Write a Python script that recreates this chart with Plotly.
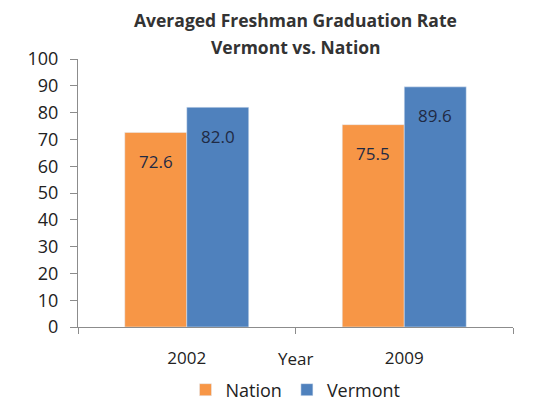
import plotly.graph_objects as go

years = ["2002", "2009"]
nation = [72.6, 75.5]
vermont = [82.0, 89.6]
y_ticks = [0, 10, 20, 30, 40, 50, 60, 70, 80, 90, 100]
title_lines = ["Averaged Freshman Graduation Rate", "Vermont vs. Nation"]

FONT = "Open Sans"
label_color = "#1F2A44"
W, H = 543, 402
ML, MR, MT, MB = 78, 30, 59, 75
BARGAP = 0.43
plot_w = W - ML - MR
plot_h = H - MT - MB

fig = go.Figure()
fig.add_trace(go.Bar(x=years, y=nation, name="Nation", marker_color="#F79646"))
fig.add_trace(go.Bar(x=years, y=vermont, name="Vermont", marker_color="#4F81BD"))

# data labels inside the bars, a little below the top
bar_px = plot_w / len(years) * (1 - BARGAP) / 2
for series, sign in ((nation, -1), (vermont, 1)):
    for i, v in enumerate(series):
        fig.add_annotation(
            x=i, y=v, xref="x", yref="y", text=f"{v:.1f}", showarrow=False,
            xshift=sign * bar_px / 2, yshift=-29, yanchor="middle",
            font=dict(family=FONT, size=17, color=label_color),
        )

# two-line bold title
for line, ypx in zip(title_lines, (20, 47)):
    fig.add_annotation(
        text=f"<b>{line}</b>", x=0.5, xref="paper",
        y=1 + (MT - ypx) / plot_h, yref="paper",
        xanchor="center", yanchor="middle", showarrow=False,
        font=dict(family=FONT, size=17.5, color="#333333"),
    )

fig.update_layout(
    width=W, height=H,
    margin=dict(l=ML, r=MR, t=MT, b=MB, autoexpand=False),
    paper_bgcolor="white", plot_bgcolor="white",
    barmode="group", bargap=BARGAP, bargroupgap=0,
    font=dict(family=FONT, size=15, color="#222222"),
    showlegend=True,
    legend=dict(
        orientation="h", x=0.5, xanchor="center", y=-0.235, yanchor="middle",
        font=dict(family=FONT, size=18, color="#222222"),
        itemwidth=30, traceorder="normal",
    ),
)

fig.update_yaxes(
    range=[0, 100], tickvals=y_ticks, showgrid=False,
    showline=True, linecolor="#8c8c8c", linewidth=1,
    ticks="outside", ticklen=7, tickcolor="#8c8c8c",
    tickfont=dict(family=FONT, size=18, color="#222222"),
    ticklabelstandoff=8,
    zeroline=False,
)
fig.update_xaxes(
    type="category", range=[-0.5, len(years) - 0.5],
    showgrid=False, showline=True, linecolor="#8c8c8c", linewidth=1,
    ticks="outside", ticklen=6, tickcolor="#8c8c8c", tickson="boundaries",
    tickfont=dict(family=FONT, size=17, color="#222222"),
    ticklabelstandoff=16,
)

fig.add_annotation(
    text="Year", x=0.5, xref="paper", y=-31 / plot_h, yref="paper",
    xanchor="center", yanchor="middle", showarrow=False,
    font=dict(family=FONT, size=17, color="#222222"),
)

fig.write_html(
    "out.html",
    config={"displayModeBar": False},
    post_script="document.body.style.margin='0';document.body.style.overflow='hidden';",
)
